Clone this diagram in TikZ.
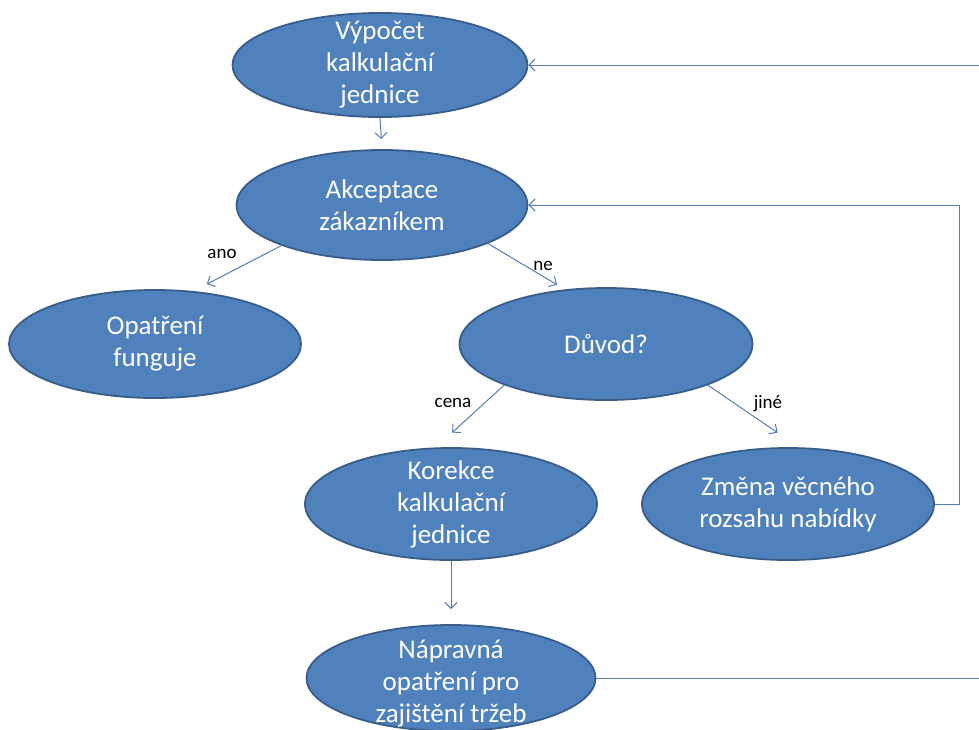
\documentclass[tikz,border=0pt]{standalone}
\usepackage{fontspec}
\setmainfont{Carlito}
\usetikzlibrary{shapes.geometric,arrows.meta}
\definecolor{bfill}{HTML}{4F81BD}
\definecolor{bdraw}{HTML}{385D8A}
\definecolor{lcol}{RGB}{84,124,180}
\begin{document}
\begin{tikzpicture}[x=1pt,y=-1pt,
  bub/.style={ellipse,draw=bdraw,line width=1.8pt,fill=bfill,inner sep=0pt},
  txt/.style={text=white,align=center,font=\fontsize{27}{32}\selectfont,inner sep=0pt},
  conn/.style={draw=lcol,line width=1pt,-{Straight Barb[length=6pt,width=12pt]}},
  plain/.style={draw=lcol,line width=1pt},
  lab/.style={font=\fontsize{19}{22}\selectfont,text=black,anchor=base,inner sep=0pt}]
\useasboundingbox (0,0) rectangle (979,729);
% nodes
\node[bub,minimum width=295pt,minimum height=104pt] (vy) at (380,65) {};
\node[txt] (vyt) at (vy) {Výpočet\\kalkulační\\jednice};
\node[bub,minimum width=291pt,minimum height=110pt] (ak) at (382,205) {};
\node[txt] (akt) at (ak) {Akceptace\\zákazníkem};
\node[bub,minimum width=292pt,minimum height=108pt] (op) at (155,344) {};
\node[txt] (opt) at (op) {Opatření\\funguje};
\node[bub,minimum width=293pt,minimum height=112pt] (dv) at (606,344) {};
\node[txt] (dvt) at (dv) {Důvod?};
\node[bub,minimum width=292pt,minimum height=112pt] (ko) at (451,504) {};
\node[txt] (kot) at (ko) {Korekce\\kalkulační\\jednice};
\node[bub,minimum width=292pt,minimum height=112pt] (zm) at (788,504) {};
\node[txt] (zmt) at (zm) {Změna věcného\\rozsahu nabídky};
\node[bub,minimum width=289pt,minimum height=106pt] (na) at (451,678) {};
\node[txt] (nat) at (451,684) {Nápravná\\opatření pro\\zajištění tržeb};
% free ends at the right edge
\coordinate (rt) at (979,65);
\coordinate (rb) at (979,678);
% connectors
\draw[conn,shorten >=10pt] (vy.south) -- (ak.north);
\draw[conn,shorten >=15pt] (ak.202) -- (op.54);
\draw[conn,shorten >=9pt] (ak.340) -- (dv.127);
\draw[conn,shorten >=22pt] (dv.202) -- (ko.105);
\draw[conn,shorten >=26pt] (dv.338) -- (zm.79);
\draw[conn,shorten >=15pt] (ko.south) -- (na.north);
\draw[conn] (rt) -- (vy.east);
\draw[conn] (zm.east) -- ++(25,0) |- (ak.east);
\draw[plain] (na.east) -- (rb);
% labels
\node[lab] (lano) at (222,258) {ano};
\node[lab] (lne) at (543,270) {ne};
\node[lab] (lcena) at (453,407) {cena};
\node[lab] (ljine) at (768,408) {jiné};
\end{tikzpicture}
\end{document}
